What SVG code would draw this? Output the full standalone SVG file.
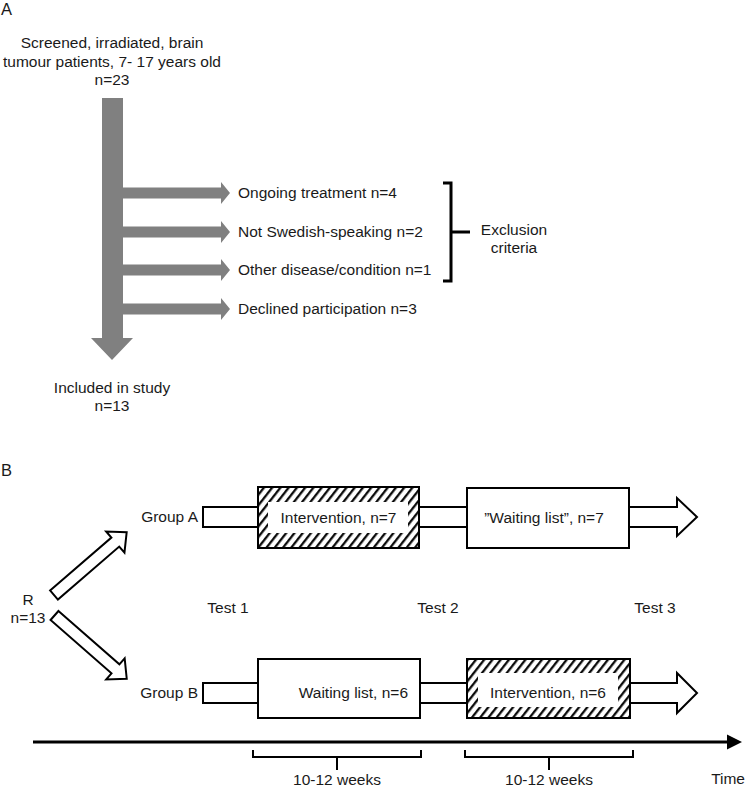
<svg xmlns="http://www.w3.org/2000/svg" width="750" height="803" viewBox="0 0 750 803">
<style>
text{font-family:"Liberation Sans",Arial,sans-serif;font-size:15.5px;fill:#1a1a1a}
.c{text-anchor:middle}
.e{text-anchor:end}
.lbl{font-size:16.5px}
.g{fill:#808080}
.box{fill:#fff;stroke:#000;stroke-width:2}
.ln{fill:none;stroke:#000;stroke-width:2}
</style>
<defs>
<pattern id="hatch" patternUnits="userSpaceOnUse" width="6.5" height="10" patternTransform="rotate(38)">
<rect width="6.5" height="10" fill="#fff"/>
<line x1="1.2" y1="0" x2="1.2" y2="10" stroke="#000" stroke-width="2.2"/>
</pattern>
</defs>

<g id="panelA">
<text x="1" y="15" class="lbl">A</text>
<g id="screened">
<text x="112" y="48" class="c">Screened, irradiated, brain</text>
<text x="112" y="67" class="c">tumour patients, 7- 17 years old</text>
<text x="112" y="85" class="c">n=23</text>
</g>
<g id="included">
<text x="112" y="393" class="c">Included in study</text>
<text x="112" y="411" class="c">n=13</text>
</g>
<g id="ex1"><text x="238" y="198">Ongoing treatment n=4</text></g>
<g id="ex2"><text x="238" y="237">Not Swedish-speaking n=2</text></g>
<g id="ex3"><text x="238" y="275">Other disease/condition n=1</text></g>
<g id="ex4"><text x="238" y="314">Declined participation n=3</text></g>
<g id="exclusion">
<path d="M443,183 H451 V281 H443 M451,232 H470" fill="none" stroke="#000" stroke-width="3"/>
<text x="514" y="235" class="c">Exclusion</text>
<text x="514" y="253" class="c">criteria</text>
</g>
</g>

<g id="connectorsA">
<path class="g" d="M102,98 H123 V338 H133 L112,360 L91,338 H102 Z"/>
<path class="g" d="M123,187.5 H221 V182 L230,193 L221,204 V198.5 H123 Z"/>
<path class="g" d="M123,226.5 H221 V221 L230,232 L221,243 V237.5 H123 Z"/>
<path class="g" d="M123,264.5 H221 V259 L230,270 L221,281 V275.5 H123 Z"/>
<path class="g" d="M123,303.5 H221 V298 L230,309 L221,320 V314.5 H123 Z"/>
</g>

<g id="panelB">
<text x="1" y="476" class="lbl">B</text>
<g id="R">
<text x="28" y="605" class="c">R</text>
<text x="28" y="623" class="c">n=13</text>
</g>
<g id="groupA"><text x="198" y="522" class="e">Group A</text></g>
<g id="groupB"><text x="198" y="698" class="e">Group B</text></g>
<g id="test1"><text x="228" y="613" class="c">Test 1</text></g>
<g id="test2"><text x="438" y="613" class="c">Test 2</text></g>
<g id="test3"><text x="655" y="613" class="c">Test 3</text></g>

<g id="rowA">
<rect class="box" x="203" y="507" width="55" height="20"/>
<rect class="box" x="419" y="507" width="48" height="20"/>
<g id="interventionA">
<rect x="258" y="487" width="161" height="61" fill="url(#hatch)" stroke="#000" stroke-width="2"/>
<rect x="268" y="502" width="140" height="31" fill="#fff"/>
<text x="338.5" y="523" class="c">Intervention, n=7</text>
</g>
<g id="waitingA">
<rect class="box" x="467" y="488" width="162" height="60"/>
<text x="544" y="523" class="c">”Waiting list”, n=7</text>
</g>
<path class="box" d="M629,507 H677 V498 L697,517 L677,536 V527 H629 Z"/>
</g>

<g id="rowB">
<rect class="box" x="203" y="683" width="55" height="20"/>
<rect class="box" x="420" y="683" width="47" height="20"/>
<g id="waitingB">
<rect class="box" x="258" y="659" width="162" height="59"/>
<text x="408" y="698" class="e">Waiting list, n=6</text>
</g>
<g id="interventionB">
<rect x="467" y="659" width="163" height="59" fill="url(#hatch)" stroke="#000" stroke-width="2"/>
<rect x="478" y="673" width="140" height="34" fill="#fff"/>
<text x="548" y="698" class="c">Intervention, n=6</text>
</g>
<path class="box" d="M630,683 H677 V673 L697,693 L677,713 V703 H630 Z"/>
</g>

<g id="randomArrows">
<path class="box" transform="translate(54,595) rotate(-40.8)" d="M0,-6 H81 V-14 L96,0 L81,14 V6 H0 Z"/>
<path class="box" transform="translate(54.5,615.5) rotate(41.2)" d="M0,-6 H81 V-14 L96,0 L81,14 V6 H0 Z"/>
</g>

<g id="timeline">
<line x1="33" y1="742" x2="729" y2="742" stroke="#000" stroke-width="3"/>
<polygon points="727,734.5 742,742 727,749.5" fill="#000"/>
<path class="ln" d="M253,750 V757 H421 V750 M337,757 V770"/>
<path class="ln" d="M465,750 V757 H633 V750 M549,757 V770"/>
<text x="337" y="785" class="c">10-12 weeks</text>
<text x="549" y="785" class="c">10-12 weeks</text>
<text x="745" y="784" class="e">Time</text>
</g>
</g>
</svg>
